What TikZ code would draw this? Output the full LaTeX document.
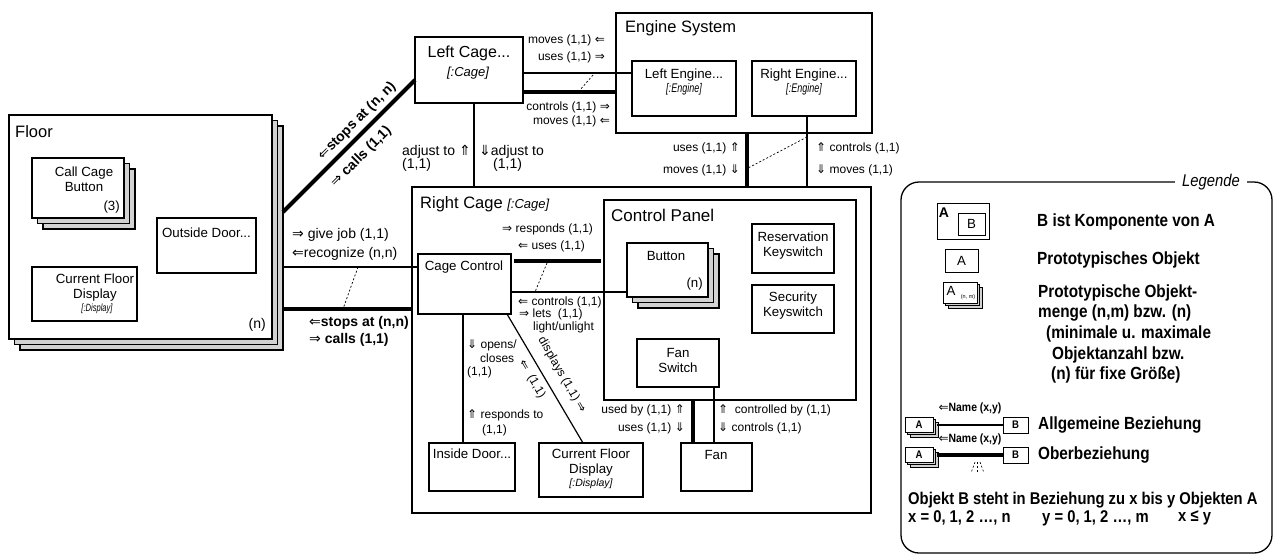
\documentclass[tikz,border=0pt]{standalone}
\usepackage{fontspec}
\setmainfont{Liberation Sans}
\newfontfamily\arr{DejaVu Sans}
\newfontfamily\nar[FakeStretch=0.87]{Liberation Sans}
\newfontfamily\xnar[FakeStretch=0.72]{Liberation Sans}
\usetikzlibrary{fit,calc}
\newcommand\ArrL{{\arr\mdseries ⇐}}
\newcommand\ArrR{{\arr\mdseries ⇒}}
\newcommand\ArrU{{\arr\mdseries ⇑}}
\newcommand\ArrD{{\arr\mdseries ⇓}}
\tikzset{
  box/.style={draw, line width=1.3pt, inner sep=0pt, outer sep=0pt},
  front/.style={box, fill=white},
  shadowbox/.style={draw, line width=1.3pt, fill=gray!35},
  sbox/.style={draw, line width=1pt, inner sep=0pt, outer sep=0pt, fill=white},
  sshadow/.style={draw, line width=1pt, fill=gray!35},
  conn/.style={line width=1.2pt},
  thk/.style={line width=4pt},
  dots/.style={line width=0.7pt, dash pattern=on 2pt off 2pt},
  ttl/.style={font=\fontsize{16.5}{19}\selectfont, inner sep=0pt},
  inn/.style={font=\fontsize{13.3}{14.5}\selectfont, align=center, inner sep=0pt},
  lbl/.style={font=\fontsize{12}{13.5}\selectfont, inner sep=0pt},
  lblL/.style={font=\fontsize{14}{16}\selectfont, inner sep=0pt},
  blbl/.style={font=\fontsize{14}{16}\selectfont\bfseries, inner sep=0pt},
  leg/.style={font=\nar\fontsize{17.6}{20.5}\selectfont\bfseries, inner sep=0pt, anchor=west},
  tag/.style={font=\xnar\itshape\fontsize{12.5}{14}\selectfont, inner sep=0pt},
}
\begin{document}
\begin{tikzpicture}[x=1pt,y=-1pt]
\useasboundingbox (0,0) rectangle (1276,555);
\fill[white] (0,0) rectangle (1276,555);

% ---------------- Floor ----------------
\draw[shadowbox] (20,126) rectangle (283,350);
\draw[shadowbox] (14.5,120.5) rectangle (277.5,344.5);
\node[front, fit={(9,115) (272,339)}] (floor) {};
\node[ttl, anchor=west] (floorT) at (15,132) {Floor};
\node[lblL, anchor=east] (floorN) at (266,325) {(n)};

\draw[shadowbox] (43,169) rectangle (135,229);
\draw[shadowbox] (37.5,163.5) rectangle (129.5,223.5);
\node[front, fit={(32,158) (124,218)}] (ccb) {};
\node[inn] (ccbT) at (84,179) {Call Cage\\Button};
\node[inn, anchor=east] (ccbN) at (120,207) {(3)};

\node[box, fit={(157,218) (256,273)}] (odoor) {};
\node[inn] (odoorT) at (206.5,233) {Outside Door...};

\node[box, fit={(32,267) (137,321)}] (fdisp) {};
\node[inn] (fdispT) at (95,287.5) {Current Floor\\Display};
\node[tag, font=\xnar\itshape\fontsize{10.5}{12}\selectfont] (fdispS) at (97,309) {[:Display]};

% ---------------- Left Cage ----------------
\node[box, fit={(415,37) (523,103)}] (lcage) {};
\node[ttl, font=\fontsize{16}{18}\selectfont] (lcageT) at (469,53) {Left Cage...};
\node[inn, font=\itshape\fontsize{13}{14}\selectfont] (lcageS) at (468,73) {[:Cage]};

% ---------------- Engine System ----------------
\node[box, fit={(616,13) (872,133)}] (engsys) {};
\node[ttl, anchor=west] (engsysT) at (625,28) {Engine System};
\node[box, fit={(632,61) (736,116)}] (lengine) {};
\node[inn] (lengineT) at (684,75) {Left Engine...};
\node[tag] (lengineS) at (684,89) {[:Engine]};
\node[box, fit={(752,61) (856,116)}] (rengine) {};
\node[inn] (rengineT) at (804,75) {Right Engine...};
\node[tag] (rengineS) at (804,89) {[:Engine]};

% ---------------- Right Cage ----------------
\node[box, fit={(412,187) (871,513)}] (rcage) {};
\node[ttl, anchor=west] (rcageT) at (420,204) {Right Cage \itshape\fontsize{13}{15}\selectfont[:Cage]};
\node[box, fit={(604,200) (856,400)}] (cpanel) {};
\node[ttl, anchor=west, font=\fontsize{17}{19}\selectfont] (cpanelT) at (611,215) {Control Panel};

\node[box, fit={(418,254) (511,314)}] (ccontrol) {};
\node[inn] (ccontrolT) at (464,267) {Cage Control};

\draw[shadowbox] (638,254) rectangle (719,308);
\draw[shadowbox] (632.5,248.5) rectangle (713.5,302.5);
\node[front, fit={(627,243) (708,297)}] (button) {};
\node[inn] (buttonT) at (666,256) {Button};
\node[inn, anchor=east] (buttonN) at (703,284) {(n)};

\node[box, fit={(752,224) (834,273)}] (reserv) {};
\node[inn, font=\fontsize{13.3}{15}\selectfont] (reservT) at (793,245.5) {Reservation\\Keyswitch};
\node[box, fit={(752,285) (834,333)}] (secur) {};
\node[inn, font=\fontsize{13.3}{15}\selectfont] (securT) at (793,305.5) {Security\\Keyswitch};
\node[box, fit={(637,339) (719,387)}] (fswitch) {};
\node[inn, font=\fontsize{13.3}{15}\selectfont] (fswitchT) at (678,360.5) {Fan\\Switch};

\node[box, fit={(429,443) (515,491)}] (idoor) {};
\node[inn] (idoorT) at (472,454) {Inside Door...};
\node[box, fit={(539,443) (643,497)}] (cdisp) {};
\node[inn] (cdispT) at (591,462.5) {Current Floor\\Display};
\node[tag, font=\itshape\fontsize{10.5}{12}\selectfont] (cdispS) at (591,484) {[:Display]};
\node[box, fit={(681,443) (752,491)}] (fan) {};
\node[inn] (fanT) at (716,455) {Fan};

% ---------------- Connectors ----------------
\draw[conn] ([xshift=11pt]floor.east |- 0,267) -- (ccontrol.west |- 0,267);
\draw[thk] ([xshift=11pt]floor.east |- 0,309) -- (rcage.west |- 0,309);
\draw[dots] (358,267) -- (343,309);
\draw[thk] ([xshift=11pt]floor.east |- 0,212) -- (lcage.west |- 0,80);

\draw[conn] (lcage.east |- 0,73) -- (lengine.west |- 0,73);
\draw[thk] (lcage.east |- 0,92) -- (engsys.west |- 0,92);
\draw[dots] (593,75) -- (580,90);

\draw[conn] (474,0 |- lcage.south) -- (474,0 |- rcage.north);
\draw[thk] (747,0 |- engsys.south) -- (747,0 |- rcage.north);
\draw[conn] (807,0 |- rengine.south) -- (807,0 |- rcage.north);
\draw[dots] (807,137) -- (748,168);

\draw[thk] ([xshift=3pt]ccontrol.east |- 0,261) -- ([xshift=-3pt]cpanel.west |- 0,261);
\draw[conn] (ccontrol.east |- 0,292) -- (button.west |- 0,292);
\draw[dots] (547,263) -- (535,292);

\draw[conn] (463,0 |- ccontrol.south) -- (463,0 |- idoor.north);
\draw[conn] (507,0 |- ccontrol.south) -- (583,0 |- cdisp.north);
\draw[thk] (693,0 |- cpanel.south) -- (693,0 |- fan.north);
\draw[conn] (714,0 |- fswitch.south) -- (714,0 |- fan.north);

% ---------------- Labels ----------------
\node[lblL, anchor=west] at (292,235) {\ArrR\ give job (1,1)};
\node[lblL, anchor=west] at (292,254) {\ArrL recognize (n,n)};
\node[blbl, anchor=west] at (309,323) {\ArrL stops at (n,n)};
\node[blbl, anchor=west] at (309,340) {\ArrR\ calls (1,1)};
\node[blbl, rotate=45] at (357,121) {\ArrL stops at (n, n)};
\node[blbl, rotate=45] at (361,157) {\ArrR\ calls (1,1)};

\node[lbl, anchor=east] at (605,40) {moves (1,1) \ArrL};
\node[lbl, anchor=east] at (605,57) {uses (1,1) \ArrR};
\node[lbl, anchor=east] at (610,107) {controls (1,1) \ArrR};
\node[lbl, anchor=east] at (610,121) {moves (1,1) \ArrL};

\node[lblL, anchor=west] at (402,152) {adjust to \ArrU};
\node[lblL, anchor=west] at (402,165) {(1,1)};
\node[lblL, anchor=west] at (479,152) {\ArrD adjust to};
\node[lblL, anchor=west] at (493,165) {(1,1)};

\node[lbl, anchor=east] at (740,148) {uses (1,1) \ArrU};
\node[lbl, anchor=east] at (740,170) {moves (1,1)\ \ArrD};
\node[lbl, anchor=west] at (816,148) {\ArrU\ controls (1,1)};
\node[lbl, anchor=west] at (816,170) {\ArrD\ moves (1,1)};

\node[lbl, anchor=west] at (502,229) {\ArrR\ responds (1,1)};
\node[lbl, anchor=west] at (518,246) {\ArrL\ uses (1,1)};
\node[lbl, anchor=west] at (518,302) {\ArrL\ controls (1,1)};
\node[lbl, anchor=west] at (519,314) {\ArrR\ lets\ \ (1,1)};
\node[lbl, anchor=west] at (533,327) {light/unlight};

\node[lbl, anchor=west] at (467,345) {\ArrD\ opens/};
\node[lbl, anchor=west] at (480,358) {closes};
\node[lbl, anchor=west] at (467,372) {(1,1)};
\node[lbl, anchor=west] at (467,415) {\ArrU\ responds to};
\node[lbl, anchor=west] at (482,430) {(1,1)};
\node[lbl, rotate=-60] at (562,375) {displays (1,1) \ArrR};
\node[lbl, rotate=-60] at (532,379) {\ArrL\ \ (1,1)};

\node[lbl, anchor=east] at (685,410) {used by (1,1) \ArrU};
\node[lbl, anchor=east] at (685,428) {uses (1,1) \ArrD};
\node[lbl, anchor=west] at (718,410) {\ArrU\ \ controlled by (1,1)};
\node[lbl, anchor=west] at (718,428) {\ArrD\ controls (1,1)};

% ---------------- Legend ----------------
\node[draw, line width=1.3pt, rounded corners=18pt, inner sep=0pt, fit={(901,182) (1272,553)}] (legend) {};
\node[fill=white, font=\nar\itshape\fontsize{17}{19}\selectfont, inner xsep=7pt, inner ysep=1pt] (legendT) at (1211,182) {Legende};

\node[sbox, fit={(937,203) (989,239)}] (lgA) {};
\node[font=\bfseries\fontsize{14}{16}\selectfont, inner sep=0pt] (lgAT) at (944,213) {A};
\node[sbox, fit={(958,213) (985,235)}] (lgB) {};
\node[inn] (lgBT) at (971.5,224) {B};

\node[sbox, fit={(945,249) (978,272)}] (lgP) {};
\node[inn] (lgPT) at (961.5,260.5) {A};

\draw[sshadow] (948,287) rectangle (982,308);
\draw[sshadow] (945.5,284.5) rectangle (979.5,305.5);
\node[sbox, fit={(943,282) (977,303)}] (lgS) {};
\node[inn] (lgST) at (951,291) {A};
\node[font=\fontsize{5.5}{6}\selectfont, inner sep=0pt] (lgSN) at (968,297) {(n, m)};

\draw[sshadow] (910,422) rectangle (938,437);
\draw[sshadow] (907.5,419.5) rectangle (935.5,434.5);
\node[sbox, fit={(905,417) (933,432)}] (lgA1) {};
\node[font=\nar\bfseries\fontsize{11}{12}\selectfont, inner sep=0pt] (lgA1T) at (lgA1) {A};
\node[sbox, fit={(1003,417) (1028,433)}] (lgB1) {};
\node[font=\nar\bfseries\fontsize{11}{12}\selectfont, inner sep=0pt] (lgB1T) at (lgB1) {B};
\draw[conn] ([xshift=4pt]lgA1.east |- 0,425) -- (lgB1.west |- 0,425);
\node[font=\nar\bfseries\fontsize{12}{13}\selectfont, inner sep=0pt] (lgN1) at (970,408) {\ArrL Name (x,y)};

\draw[sshadow] (910,452) rectangle (938,467);
\draw[sshadow] (907.5,449.5) rectangle (935.5,464.5);
\node[sbox, fit={(905,447) (933,462)}] (lgA2) {};
\node[font=\nar\bfseries\fontsize{11}{12}\selectfont, inner sep=0pt] (lgA2T) at (lgA2) {A};
\node[sbox, fit={(1003,447) (1028,463)}] (lgB2) {};
\node[font=\nar\bfseries\fontsize{11}{12}\selectfont, inner sep=0pt] (lgB2T) at (lgB2) {B};
\draw[thk] ([xshift=4pt]lgA2.east |- 0,455) -- (lgB2.west |- 0,455);
\node[font=\nar\bfseries\fontsize{12}{13}\selectfont, inner sep=0pt] (lgN2) at (970,439) {\ArrL Name (x,y)};
\draw[dots, line width=0.6pt] (975,462) -- (971,473);
\draw[dots, line width=0.6pt] (977.5,462) -- (977.5,473);
\draw[dots, line width=0.6pt] (980,462) -- (984,473);

\node[leg] at (1037,222) {B ist Komponente von A};
\node[leg] at (1037,260) {Prototypisches Objekt};
\node[leg] at (1038,293) {Prototypische Objekt-};
\node[leg] at (1038,313) {menge (n,m) bzw. (n)};
\node[leg] at (1046,334) {(minimale u. maximale};
\node[leg] at (1052,355) {Objektanzahl bzw.};
\node[leg] at (1051,375) {(n) für fixe Größe)};
\node[leg] at (1038,425) {Allgemeine Beziehung};
\node[leg] at (1038,455) {Oberbeziehung};
\node[leg, font=\nar\fontsize{17}{20}\selectfont\bfseries] at (908,500) {Objekt B steht in Beziehung zu x bis y Objekten A};
\node[leg, font=\nar\fontsize{17}{20}\selectfont\bfseries] at (908,518) {x = 0, 1, 2 …, n};
\node[leg, font=\nar\fontsize{17}{20}\selectfont\bfseries] at (1042,518) {y = 0, 1, 2 …, m};
\node[leg, font=\nar\fontsize{17}{20}\selectfont\bfseries] at (1178,518) {x ≤ y};
\end{tikzpicture}
\end{document}
